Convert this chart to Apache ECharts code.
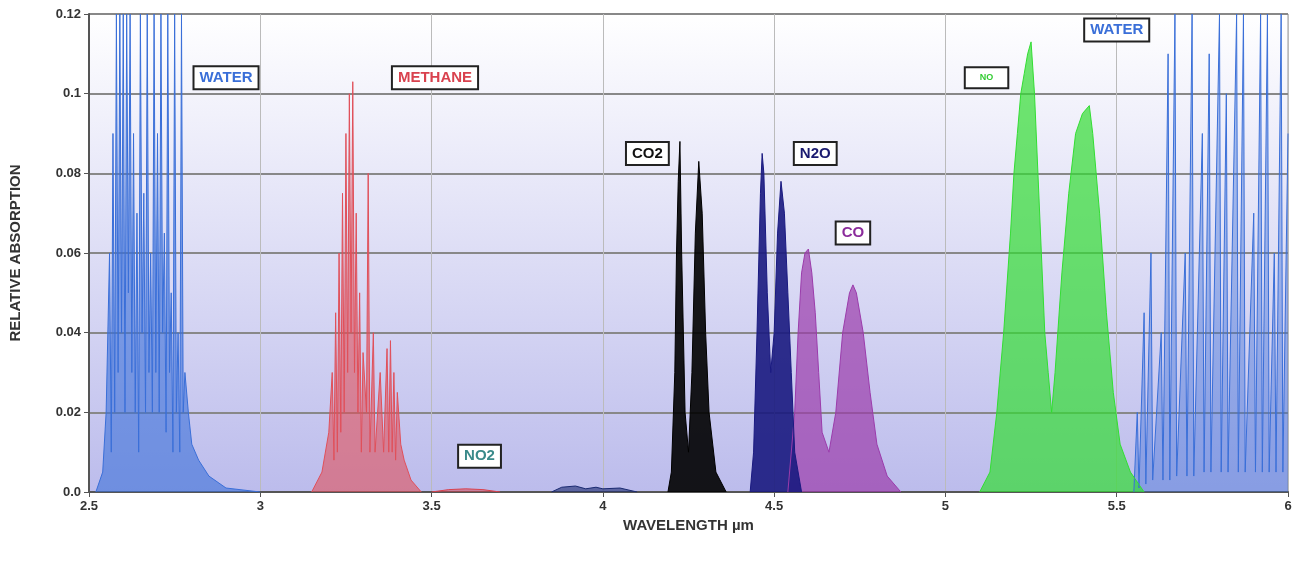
<!DOCTYPE html>
<html><head><meta charset="utf-8">
<script src="https://cdn.jsdelivr.net/npm/echarts@6/dist/echarts.min.js"></script>
<style>html,body{margin:0;padding:0;background:#fff}#c{width:1312px;height:562px}</style>
</head><body><div id="c"></div>
<script>
const xTicks=[2.5,3,3.5,4,4.5,5,5.5,6];
const yTicks=[0,0.02,0.04,0.06,0.08,0.1,0.12];
const waterLeft=[[2.52,0],[2.54,0.005],[2.55,0.02],[2.56,0.06],[2.565,0.01],[2.57,0.09],[2.575,0.02],[2.58,0.12],[2.585,0.03],[2.59,0.12],[2.595,0.04],[2.6,0.12],[2.605,0.02],[2.61,0.12],[2.615,0.05],[2.62,0.12],[2.625,0.03],[2.63,0.09],[2.635,0.02],[2.64,0.07],[2.645,0.01],[2.65,0.12],[2.655,0.04],[2.66,0.075],[2.665,0.02],[2.67,0.12],[2.675,0.03],[2.68,0.06],[2.685,0.02],[2.69,0.12],[2.695,0.03],[2.7,0.09],[2.705,0.02],[2.71,0.12],[2.715,0.04],[2.72,0.065],[2.725,0.015],[2.73,0.12],[2.735,0.03],[2.74,0.05],[2.745,0.01],[2.75,0.12],[2.755,0.02],[2.76,0.04],[2.765,0.01],[2.77,0.12],[2.775,0.02],[2.78,0.03],[2.79,0.02],[2.8,0.012],[2.82,0.008],[2.85,0.004],[2.9,0.001],[3.0,0]];
const waterRight=[[5.55,0],[5.56,0.02],[5.565,0.001],[5.58,0.045],[5.585,0.002],[5.6,0.06],[5.605,0.003],[5.63,0.04],[5.635,0.003],[5.65,0.11],[5.655,0.003],[5.67,0.12],[5.675,0.004],[5.7,0.06],[5.705,0.004],[5.72,0.12],[5.725,0.004],[5.75,0.09],[5.755,0.005],[5.77,0.11],[5.775,0.005],[5.8,0.12],[5.805,0.005],[5.82,0.1],[5.825,0.005],[5.85,0.12],[5.855,0.005],[5.87,0.12],[5.875,0.005],[5.9,0.07],[5.905,0.005],[5.92,0.12],[5.925,0.005],[5.94,0.12],[5.945,0.005],[5.96,0.06],[5.965,0.005],[5.98,0.12],[5.985,0.005],[6.0,0.09]];
const methane=[[3.15,0],[3.18,0.005],[3.2,0.015],[3.21,0.03],[3.215,0.008],[3.22,0.045],[3.225,0.01],[3.23,0.06],[3.235,0.015],[3.24,0.075],[3.245,0.02],[3.25,0.09],[3.255,0.03],[3.26,0.1],[3.265,0.04],[3.27,0.103],[3.275,0.03],[3.28,0.07],[3.285,0.02],[3.29,0.05],[3.295,0.01],[3.3,0.035],[3.31,0.02],[3.315,0.08],[3.32,0.01],[3.33,0.04],[3.335,0.01],[3.35,0.03],[3.36,0.01],[3.37,0.036],[3.375,0.01],[3.38,0.038],[3.385,0.01],[3.39,0.03],[3.395,0.008],[3.4,0.025],[3.41,0.012],[3.42,0.008],[3.44,0.003],[3.47,0]];
const co2=[[4.19,0],[4.2,0.005],[4.21,0.03],[4.215,0.06],[4.22,0.078],[4.225,0.088],[4.23,0.06],[4.24,0.02],[4.25,0.01],[4.26,0.03],[4.27,0.065],[4.28,0.083],[4.29,0.07],[4.3,0.04],[4.31,0.02],[4.33,0.005],[4.36,0]];
const n2o=[[4.43,0],[4.44,0.01],[4.45,0.04],[4.46,0.075],[4.465,0.085],[4.47,0.08],[4.48,0.05],[4.49,0.03],[4.5,0.04],[4.51,0.065],[4.52,0.078],[4.53,0.07],[4.54,0.05],[4.55,0.03],[4.56,0.01],[4.58,0]];
const co=[[4.54,0],[4.56,0.02],[4.57,0.04],[4.58,0.055],[4.59,0.06],[4.6,0.061],[4.61,0.055],[4.62,0.045],[4.63,0.03],[4.64,0.015],[4.66,0.01],[4.68,0.02],[4.7,0.04],[4.72,0.05],[4.73,0.052],[4.74,0.05],[4.76,0.04],[4.78,0.025],[4.8,0.012],[4.83,0.004],[4.87,0]];
const no=[[5.1,0],[5.13,0.005],[5.15,0.02],[5.17,0.04],[5.19,0.065],[5.2,0.08],[5.21,0.09],[5.22,0.1],[5.23,0.105],[5.24,0.11],[5.25,0.113],[5.26,0.1],[5.27,0.08],[5.28,0.06],[5.29,0.04],[5.3,0.03],[5.31,0.02],[5.32,0.03],[5.34,0.055],[5.36,0.075],[5.38,0.09],[5.4,0.095],[5.42,0.097],[5.43,0.09],[5.45,0.07],[5.47,0.045],[5.49,0.025],[5.51,0.012],[5.54,0.005],[5.58,0]];
const no2=[[3.5,0],[3.55,0.0006],[3.6,0.0008],[3.65,0.0006],[3.7,0]];
const misc=[[3.85,0],[3.88,0.0012],[3.92,0.0015],[3.95,0.0008],[3.98,0.0012],[4.0,0.0008],[4.05,0.001],[4.1,0]];
const labels=[
 {t:'WATER',x:2.9,y:0.104,c:'#3a6fd8'},
 {t:'METHANE',x:3.51,y:0.104,c:'#d9424e'},
 {t:'CO2',x:4.13,y:0.085,c:'#111'},
 {t:'N2O',x:4.62,y:0.085,c:'#1a1a70'},
 {t:'CO',x:4.73,y:0.065,c:'#8b2c9b'},
 {t:'NO',x:5.12,y:0.104,c:'#33cc33',s:9},
 {t:'WATER',x:5.5,y:0.116,c:'#3a6fd8'},
 {t:'NO2',x:3.64,y:0.009,c:'#3a8a8a'}
];
function spec(name,data,color,op){return {name,type:'line',data,symbol:'none',clip:true,
 lineStyle:{color,width:1},areaStyle:{color,opacity:op},z:3};}
const series=[
 spec('water1',waterLeft,'#3a6fd8',0.6),
 spec('water2',waterRight,'#3a6fd8',0.4),
 spec('methane',methane,'#e0505a',0.6),
 spec('no2',no2,'#d9424e',0.5),
 spec('misc',misc,'#1a2a70',0.6),
 spec('co2',co2,'#000000',0.9),
 spec('co',co,'#9b3cab',0.7),
 spec('n2o',n2o,'#1a1a80',0.9),
 spec('no',no,'#33dd33',0.7),
 {type:'scatter',data:[],markPoint:{symbol:'rect',symbolSize:1,itemStyle:{color:'transparent'},
  data:labels.map(l=>({coord:[l.x,l.y],label:{show:true,formatter:l.t,color:l.c,fontSize:l.s||15,fontWeight:'bold',
   fontFamily:'Liberation Sans',backgroundColor:'#fff',borderColor:'#222',borderWidth:2,
   padding:l.s?[5,14]:[3,5]}}))},z:10}
];
const chart=echarts.init(document.getElementById('c'));
chart.setOption({animation:false,
 grid:{left:88,right:24,top:14,bottom:70,show:true,borderColor:'#999',
  backgroundColor:new echarts.graphic.LinearGradient(0,0,0,1,[{offset:0,color:'#ffffff'},{offset:1,color:'#bcbcec'}])},
 xAxis:{type:'value',min:2.5,max:6,interval:0.5,name:'WAVELENGTH µm',nameLocation:'middle',nameGap:22,
  nameTextStyle:{fontWeight:'bold',fontSize:15,color:'#333'},
  axisLine:{lineStyle:{color:'#555',width:2}},axisTick:{show:true,lineStyle:{color:'#555'}},
  axisLabel:{color:'#333',fontWeight:'bold',fontSize:13,margin:8},
  splitLine:{show:true,lineStyle:{color:'#bbb',width:1}}},
 yAxis:{type:'value',min:0,max:0.12,interval:0.02,name:'RELATIVE ABSORPTION',nameLocation:'middle',nameGap:66,
  nameTextStyle:{fontWeight:'bold',fontSize:15,color:'#333'},
  axisLine:{show:true,lineStyle:{color:'#555',width:2}},
  axisLabel:{color:'#333',fontWeight:'bold',fontSize:13,formatter:v=>v===0?'0.0':String(+v.toFixed(2))},
  splitLine:{show:true,lineStyle:{color:'#888',width:2}}},
 series});
</script></body></html>
